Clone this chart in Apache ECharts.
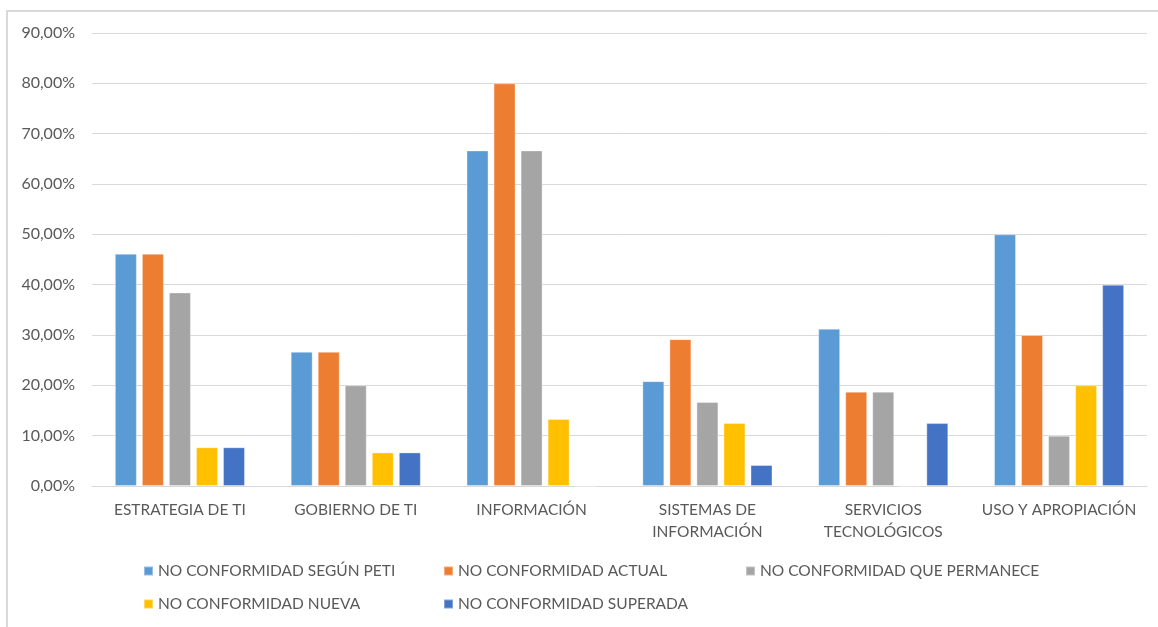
<!DOCTYPE html>
<html>
<head>
<meta charset="utf-8">
<script src="https://cdn.jsdelivr.net/npm/echarts@6/dist/echarts.min.js"></script>
<style>
  html, body { margin: 0; padding: 0; background: #fff; }
  #chart { width: 1158px; height: 627px; }
  .frame { position: absolute; left: 6px; top: 10px; right: -10px; bottom: -10px;
           border-left: 2px solid #d9d9d9; border-top: 2px solid #d9d9d9; pointer-events: none; }
</style>
</head>
<body>
<div id="chart"></div>
<div class="frame"></div>
<script>
// Domain categories (x axis)
const categories = [
  'ESTRATEGIA DE TI',
  'GOBIERNO DE TI',
  'INFORMACIÓN',
  'SISTEMAS DE\nINFORMACIÓN',
  'SERVICIOS\nTECNOLÓGICOS',
  'USO Y APROPIACIÓN'
];

// Series names
const seriesNames = [
  'NO CONFORMIDAD SEGÚN PETI',
  'NO CONFORMIDAD ACTUAL',
  'NO CONFORMIDAD QUE PERMANECE',
  'NO CONFORMIDAD NUEVA',
  'NO CONFORMIDAD SUPERADA'
];

// Percent values per domain
const segunPeti   = [46.15, 26.67, 66.67, 20.83, 31.25, 50.00];
const actual      = [46.15, 26.67, 80.00, 29.17, 18.75, 30.00];
const permanece   = [38.46, 20.00, 66.67, 16.67, 18.75, 10.00];
const nueva       = [7.69,  6.67,  13.33, 12.50, 0,     20.00];
const superada    = [7.69,  6.67,  0,     4.17,  12.50, 40.00];

const seriesValues = [segunPeti, actual, permanece, nueva, superada];
const colors = ['#5b9bd5', '#ed7d31', '#a5a5a5', '#ffc000', '#4472c4'];

// Y axis ticks
const yMin = 0, yMax = 90, yStep = 10;

const font = 'Lato, "Liberation Sans", sans-serif';
const textColor = '#595959';

// One legend per item so every entry sits on a fixed column
const legendSlots = [
  { left: 143, top: 563 },
  { left: 443, top: 563 },
  { left: 745, top: 563 },
  { left: 143, top: 596 },
  { left: 443, top: 596 }
];

const legends = seriesNames.map((name, i) => ({
  data: [name],
  left: legendSlots[i].left,
  top: legendSlots[i].top,
  orient: 'horizontal',
  itemWidth: 9,
  itemHeight: 9,
  icon: 'rect',
  padding: 0,
  selectedMode: false,
  textStyle: { color: textColor, fontSize: 15.5, fontFamily: font }
}));

const chart = echarts.init(document.getElementById('chart'), null, { renderer: 'canvas' });

chart.setOption({
  animation: false,
  color: colors,
  grid: { left: 92, right: 11, top: 33, bottom: 141, containLabel: false },
  legend: legends,
  xAxis: {
    type: 'category',
    data: categories,
    axisLine: { lineStyle: { color: '#d9d9d9', width: 1 } },
    axisTick: { show: false },
    axisLabel: {
      color: textColor, fontSize: 15.5, fontFamily: font,
      margin: 13, lineHeight: 22, interval: 0
    }
  },
  yAxis: {
    type: 'value',
    min: yMin, max: yMax, interval: yStep,
    axisLine: { show: false },
    axisTick: { show: false },
    splitLine: { lineStyle: { color: '#d9d9d9', width: 1 } },
    axisLabel: {
      color: textColor, fontSize: 16, fontFamily: font, margin: 17,
      formatter: v => v.toFixed(2).replace('.', ',') + '%'
    }
  },
  series: seriesNames.map((name, i) => ({
    name,
    type: 'bar',
    data: seriesValues[i],
    barGap: '23%',
    barCategoryGap: '26%',
    itemStyle: { color: colors[i], borderColor: 'rgba(255,255,255,0.35)', borderWidth: 1 }
  }))
});
</script>
</body>
</html>
